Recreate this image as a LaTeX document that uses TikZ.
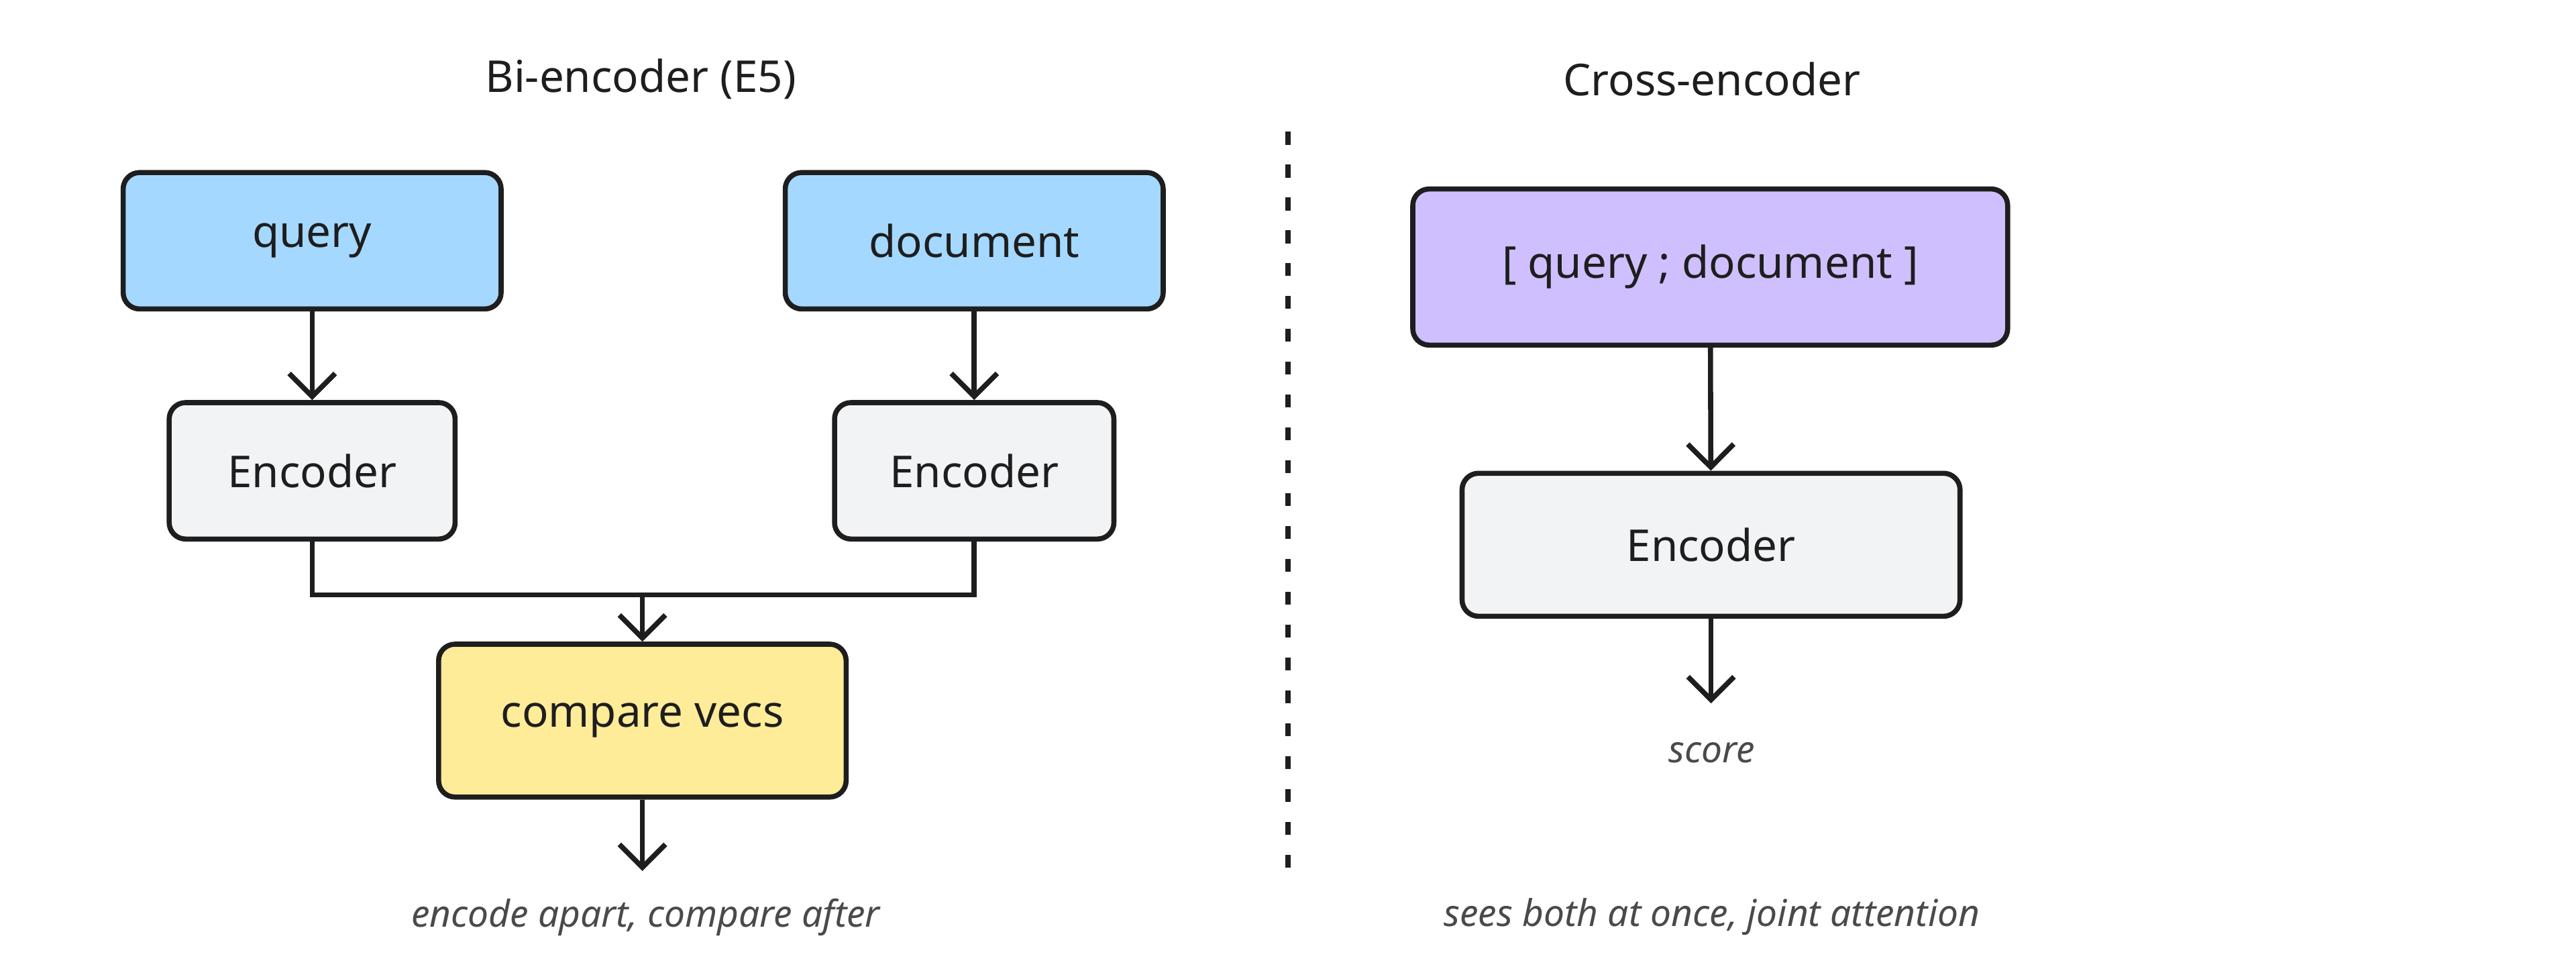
\documentclass[tikz,border=0pt]{standalone}
\usepackage{fontspec}
\setmainfont{Noto Sans}
\usetikzlibrary{arrows.meta}
\definecolor{blu}{HTML}{A5D8FF}
\definecolor{gry}{HTML}{F1F3F5}
\definecolor{yel}{HTML}{FFEC99}
\definecolor{vio}{HTML}{D0BFFF}
\definecolor{ink}{HTML}{1E1E1E}
\definecolor{lab}{HTML}{4A4A4A}
\begin{document}
\begin{tikzpicture}[x=0.025cm,y=-0.025cm,
  box/.style={draw=ink,line width=2.2pt,rounded corners=0.25cm,font=\fontsize{19}{22}\selectfont,text=ink},
  arr/.style={draw=ink,line width=2.2pt,-{Straight Barb[length=3.5mm,width=7mm,line width=2.2pt]}},
  ln/.style={draw=ink,line width=2.2pt},
  ttl/.style={font=\fontsize{19}{22}\selectfont,text=ink},
  lbl/.style={font=\itshape\fontsize{16}{19}\selectfont,text=lab}]
\useasboundingbox (0,0) rectangle (1568,593);
\node[ttl] (t1) at (390,48) {Bi-encoder (E5)};
\node[ttl] (t2) at (1042,48) {Cross-encoder};
\node[box,fill=blu,minimum width=5.75cm,minimum height=2.075cm] (q) at (190,146.5) {query};
\node[box,fill=blu,minimum width=5.75cm,minimum height=2.075cm] (d) at (593,146.5) {document};
\node[box,fill=gry,minimum width=4.35cm,minimum height=2.075cm] (el) at (190,286.5) {Encoder};
\node[box,fill=gry,minimum width=4.25cm,minimum height=2.075cm] (er) at (593,286.5) {Encoder};
\node[box,fill=yel,minimum width=6.2cm,minimum height=2.325cm] (cv) at (391,438.5) {compare vecs};
\node[box,fill=vio,minimum width=9.05cm,minimum height=2.375cm] (qd) at (1041,162.5) {[ query ; document ]};
\node[box,fill=gry,minimum width=7.575cm,minimum height=2.175cm] (ec) at (1041.5,331.5) {Encoder};
\coordinate (m) at (391,362);
\coordinate (e1) at (391,530);
\coordinate (e2) at (1041.5,428);
\coordinate (d1) at (784,80);
\coordinate (d2) at (784,538);
\draw[arr] (q) -- (el);
\draw[arr] (d) -- (er);
\draw[ln] (el.south) |- (m);
\draw[ln] (er.south) |- (m);
\draw[arr] (m) -- (cv.north);
\draw[arr] (cv.south) -- (e1);
\draw[arr] (qd) -- (ec);
\draw[arr] (ec.south) -- (e2);
\draw[draw=ink,line width=2.2pt,dash pattern=on 0.2cm off 0.3cm] (d1) -- (d2);
\node[lbl] (l1) at (393,558) {encode apart, compare after};
\node[lbl] (l2) at (1042,458) {score};
\node[lbl] (l3) at (1042,558) {sees both at once, joint attention};
\end{tikzpicture}
\end{document}
